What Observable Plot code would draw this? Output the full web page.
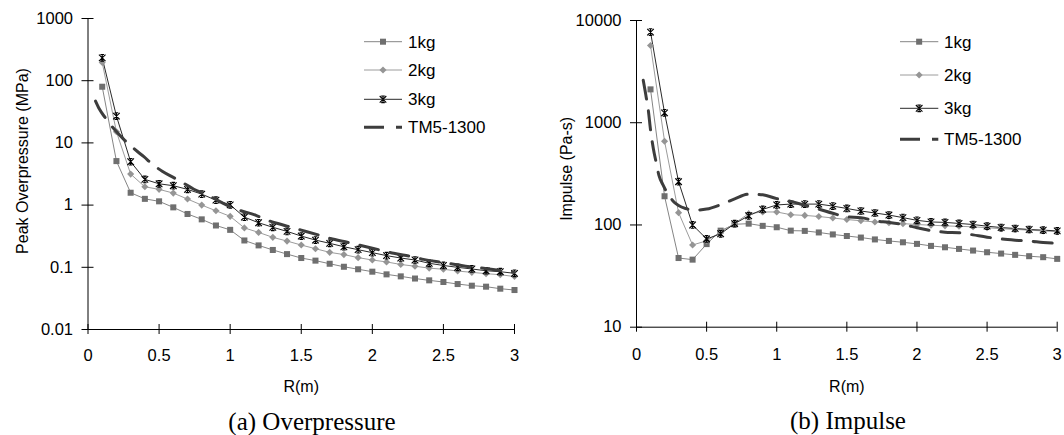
<!DOCTYPE html>
<html><head><meta charset="utf-8">
<script src="https://cdn.jsdelivr.net/npm/d3@7"></script>
<script src="https://cdn.jsdelivr.net/npm/@observablehq/plot@0.6"></script>
<style>
body{margin:0;background:#fff;}
#wrap{position:relative;width:1064px;height:435px;overflow:hidden;background:#fff;font-family:"Liberation Sans",Arial,sans-serif;}
#wrap svg{position:absolute;top:0;}
.cap{position:absolute;font-family:"Liberation Serif","Times New Roman",serif;font-size:25px;color:#000;transform:translate(-50%,-50%);white-space:nowrap;}
</style></head><body><div id="wrap"></div>
<script>
// ---- data ----
const R = [0.1,0.2,0.3,0.4,0.5,0.6,0.7,0.8,0.9,1.0,1.1,1.2,1.3,1.4,1.5,1.6,1.7,1.8,1.9,2.0,2.1,2.2,2.3,2.4,2.5,2.6,2.7,2.8,2.9,3.0];
const seriesNames = ["1kg","2kg","3kg","TM5-1300"];

const op1kg = [80,5.1,1.58,1.26,1.15,0.92,0.72,0.59,0.47,0.40,0.27,0.225,0.19,0.163,0.141,0.128,0.114,0.102,0.093,0.085,0.077,0.0715,0.066,0.0617,0.058,0.0538,0.0506,0.0488,0.0453,0.0431];
const op2kg = [196,15.1,3.15,1.97,1.79,1.56,1.25,1.0,0.81,0.66,0.43,0.364,0.303,0.264,0.228,0.199,0.174,0.16,0.143,0.131,0.122,0.111,0.104,0.097,0.093,0.087,0.083,0.079,0.076,0.071];
const op3kg = [233,27,4.98,2.59,2.2,2.05,1.79,1.5,1.2,1.01,0.64,0.52,0.44,0.378,0.318,0.274,0.243,0.214,0.192,0.172,0.154,0.141,0.131,0.116,0.107,0.0998,0.094,0.088,0.085,0.08];
const tmR_op = [0.053,0.08,0.118,0.155,0.193,0.25,0.306,0.35,0.393,0.45,0.522,0.611,0.68,0.745,0.827,0.955,1.049,1.178,1.272,1.4,1.494,1.623,1.705,1.834,1.927,2.056,2.15,2.279,2.36,2.49,2.583,2.7,2.794,2.923,3.0];
const tmOp = [47,35,26,20,15.8,11.5,8.75,7.2,6.0,4.6,3.5,2.7,2.2,1.8,1.5,1.06,0.85,0.69,0.56,0.46,0.40,0.33,0.29,0.25,0.222,0.189,0.168,0.148,0.134,0.12,0.111,0.101,0.096,0.087,0.083];

const imp1kg = [2120,191,47.5,45.8,65,88,101.5,103,98,95,88,87.5,84.5,80.8,78,75.3,72.2,69.8,67.7,65.3,62.4,60.5,58.3,56.2,54.1,52.5,51,49.5,48.4,46.6];
const imp2kg = [5700,660,132,63.7,70,85,104,129,134,134,126,124,121,117,113,110,107,105,103,101,99.5,98,97,96,94,92,90.5,89,87.5,86];
const imp3kg = [7700,1250,265,100,73,82,103,123,142,157,160,160,160,153,145,137,131,125,118,111,107,106,103.5,101,97.3,94.4,92.4,90.3,89,87.5];
const tmR_imp = [0.048,0.07,0.085,0.1,0.12,0.14,0.16,0.19,0.22,0.26,0.3,0.35,0.42,0.5,0.6,0.7,0.8,0.9,1.0,1.1,1.2,1.3,1.4,1.5,1.6,1.7,1.8,1.9,2.0,2.1,2.2,2.3,2.4,2.5,2.6,2.7,2.8,2.9,3.0];
const tmImp = [2600,1750,1300,850,560,410,305,245,205,172,155,145,140,143,158,180,200,197,181,170,156,143,130,120,118,110,106,101,94,88,85,84,80,76,73,71,69.5,67.5,66];

const xTicks = [0,0.5,1,1.5,2,2.5,3];
const opTicks = [0.01,0.1,1,10,100,1000];
const impTicks = [10,100,1000,10000];

// ---- styles ----
const starSymbol = {
  draw(ctx, size) {
    const r = Math.sqrt(size / Math.PI);
    ctx.moveTo(-r, -r); ctx.lineTo(r, r);
    ctx.moveTo(-r, r); ctx.lineTo(r, -r);
    ctx.moveTo(0, -r * 1.1); ctx.lineTo(0, r * 1.1);
    ctx.moveTo(-r * 0.55, -r); ctx.lineTo(r * 0.55, -r);
    ctx.moveTo(-r * 0.55, r); ctx.lineTo(r * 0.55, r);
  }
};
const styles = [
  {line:"#858585", symbol:d3.symbolSquare, r:3.4, fill:"#6f6f6f", stroke:"none"},
  {line:"#9c9c9c", symbol:d3.symbolDiamond2, r:3.2, fill:"#959595", stroke:"none"},
  {line:"#2a2a2a", symbol:starSymbol, r:3.3, fill:"none", stroke:"#000"},
  {line:"#3d3d3d", dash:"19,12", width:3}
];

function rows(xs, ys) { return xs.map((x, i) => ({R: x, v: ys[i]})); }

function makePanel(o) {
  const marks = [
    Plot.ruleX([0], {stroke:"#000"}),
    Plot.ruleY([o.yDomain[0]], {stroke:"#000"}),
    Plot.axisY({ticks:o.yTicks, tickSize:12, dx:6, text:null, label:null, stroke:"#000"}),
    Plot.axisY({ticks:o.yTicks, tickSize:0, tickPadding:15, tickFormat:d=>String(d), label:null, fontSize:16.5}),
    Plot.axisX({ticks:xTicks, tickSize:10, dy:-5, text:null, label:null, stroke:"#000"}),
    Plot.axisX({ticks:xTicks, tickSize:0, tickPadding:o.xPad, tickFormat:d=>String(d), label:null, fontSize:16.5}),
    Plot.text([o.yLabel], {frameAnchor:"left", textAnchor:"middle", lineAnchor:"middle", rotate:-90, dx:o.yLabelDx, dy:o.yLabelDy, fontSize:16, text:d=>d}),
    Plot.text(["R(m)"], {frameAnchor:"bottom", textAnchor:"middle", lineAnchor:"middle", dy:o.xLabelDy, fontSize:16, text:d=>d})
  ];
  o.series.forEach((d, i) => {
    const s = styles[i];
    if (!s.dash) marks.push(Plot.line(d, {x:"R", y:"v", stroke:s.line, strokeWidth:1}));
  });
  o.series.forEach((d, i) => {
    const s = styles[i];
    if (!s.dash) marks.push(Plot.dot(d, {x:"R", y:"v", symbol:s.symbol, r:s.r, fill:s.fill, stroke:s.stroke, strokeWidth:1.1}));
  });
  o.series.forEach((d, i) => {
    const s = styles[i];
    if (s.dash) marks.push(Plot.line(d, {x:"R", y:"v", stroke:s.line, strokeWidth:s.width, strokeDasharray:s.dash, curve:"monotone-x"}));
  });
  const svg = Plot.plot({
    width:o.width, height:435,
    marginLeft:o.ml, marginRight:o.mr, marginTop:o.mt, marginBottom:o.mb,
    x:{domain:[0,3], label:null},
    y:{type:"log", domain:o.yDomain, label:null},
    style:{fontFamily:"Liberation Sans, Arial, sans-serif", color:"#000", background:"transparent", overflow:"visible"},
    marks
  });
  svg.style.left = o.left + "px";
  // legend
  const g = d3.select(svg).append("g")
    .attr("font-family","Liberation Sans, Arial, sans-serif").attr("font-size",17).attr("text-anchor","start");
  seriesNames.forEach((name, i) => {
    const s = styles[i], y = o.legRows[i];
    const ln = g.append("line").attr("x1",o.legX0).attr("x2",o.legX1).attr("y1",y).attr("y2",y)
      .attr("stroke", s.line).attr("stroke-width", s.width || 1);
    if (s.dash) ln.attr("stroke-dasharray","20,12");
    else {
      g.append("path").attr("d", d3.symbol(s.symbol, Math.PI*s.r*s.r)())
        .attr("transform",`translate(${(o.legX0+o.legX1)/2},${y})`)
        .attr("fill", s.fill).attr("stroke", s.stroke).attr("stroke-width",1.1);
    }
    g.append("text").attr("x",o.legText).attr("y",y).attr("dy","0.35em").attr("fill","#000").text(name);
  });
  return svg;
}

const wrap = document.getElementById("wrap");
wrap.appendChild(makePanel({
  left:0, width:540, ml:87.5, mr:26, mt:18, mb:106,
  yDomain:[0.01,1000], yTicks:opTicks, yLabel:"Peak Overpressure (MPa)",
  yLabelDx:-65.5, yLabelDy:-13, xPad:20, xLabelDy:57,
  series:[rows(R,op1kg), rows(R,op2kg), rows(R,op3kg), rows(tmR_op,tmOp)],
  legX0:364, legX1:402, legText:408, legRows:[41.7,70,99.3,127.3]
}));
wrap.appendChild(makePanel({
  left:540, width:524, ml:96, mr:7.3, mt:20, mb:108.3,
  yDomain:[10,10000], yTicks:impTicks, yLabel:"Impulse (Pa-s)",
  yLabelDx:-70, yLabelDy:-5, xPad:21, xLabelDy:60,
  series:[rows(R,imp1kg), rows(R,imp2kg), rows(R,imp3kg), rows(tmR_imp,tmImp)],
  legX0:360, legX1:398.3, legText:404, legRows:[41.7,75,108.3,139.3]
}));
const caps = [["(a) Overpressure",312,422],["(b) Impulse",848,421]];
caps.forEach(([t,x,y]) => {
  const d = document.createElement("div");
  d.className = "cap"; d.textContent = t;
  d.style.left = x + "px"; d.style.top = y + "px";
  wrap.appendChild(d);
});
</script>
</body></html>
